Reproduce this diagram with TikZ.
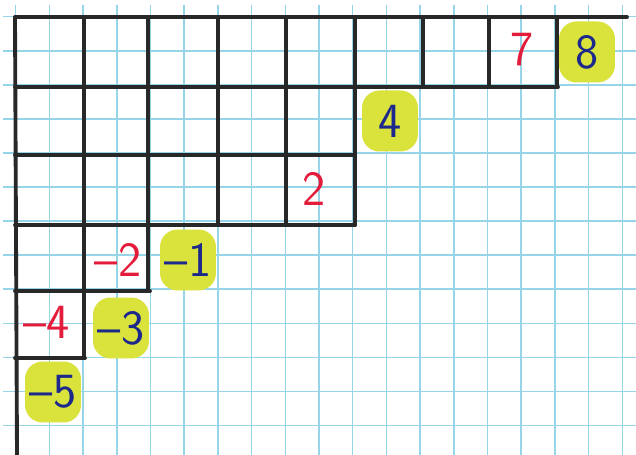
\documentclass[tikz,border=0pt]{standalone}
\usepackage{fontspec}
\usepackage{tikz}
\usetikzlibrary{positioning}
\definecolor{paperblue}{RGB}{150,212,232}
\definecolor{pen}{RGB}{40,40,40}
\definecolor{redpen}{RGB}{228,28,60}
\definecolor{bluepen}{RGB}{28,40,140}
\definecolor{hilite}{RGB}{218,226,60}

\begin{document}
\begin{tikzpicture}[x=0.02cm,y=-0.02cm,
  frame/.style={pen,line width=2.2pt,line cap=round},
  removable/.style={text=redpen,inner sep=0pt,font=\sffamily\fontsize{28}{28}\selectfont},
  addable/.style={text=bluepen,fill=hilite,rounded corners=10pt,minimum width=1.12cm,
    minimum height=1.22cm,inner sep=0pt,font=\sffamily\fontsize{28}{28}\selectfont}]
  % Paper
  \useasboundingbox (0,0) rectangle (636,455);
  \fill[white] (0,0) rectangle (636,455);
  \begin{scope}
    \clip (3,5) rectangle (636,455);
    \foreach \i in {0,...,18}
      \draw[paperblue,line width=0.9pt] ({15.7+33.7*\i},5) -- ({15.7+33.7*\i},455);
    \foreach \j in {0,...,13}
      \draw[paperblue,line width=0.9pt] (3,{16.7+34.07*\j}) -- (636,{16.7+34.07*\j});
  \end{scope}

  % Diagram rows
  \draw[frame] (15,17) -- (627,17);
  \draw[frame] (15,87) -- (558,87);
  \draw[frame] (15,155) -- (355,155);
  \draw[frame] (15,225) -- (355,225);
  \draw[frame] (15,291) -- (150,291);
  \draw[frame] (15,358) -- (85,358);

  % Diagram columns
  \draw[frame] (15,17) -- (17,455);
  \foreach \x/\y in {84/358, 148/291, 218/225, 286/225, 355/225, 423/87, 489/87, 557/87}
    \draw[frame] (\x,17) -- (\x,\y);

  % Removable corners
  \node[removable] (c7) at (522,50) {7};
  \node[removable] (c2) at (314,189) {2};
  \node[removable] (cm2) at (118,260) {--2};
  \node[removable] (cm4) at (47,322) {--4};

  % Addable cells
  \node[addable] (c8) at (587,52) {8};
  \node[addable] (c4) at (390,121) {4};
  \node[addable] (cm1) at (188,260) {--1};
  \node[addable] (cm3) at (121,328) {--3};
  \node[addable] (cm5) at (53,392) {--5};
\end{tikzpicture}
\end{document}
